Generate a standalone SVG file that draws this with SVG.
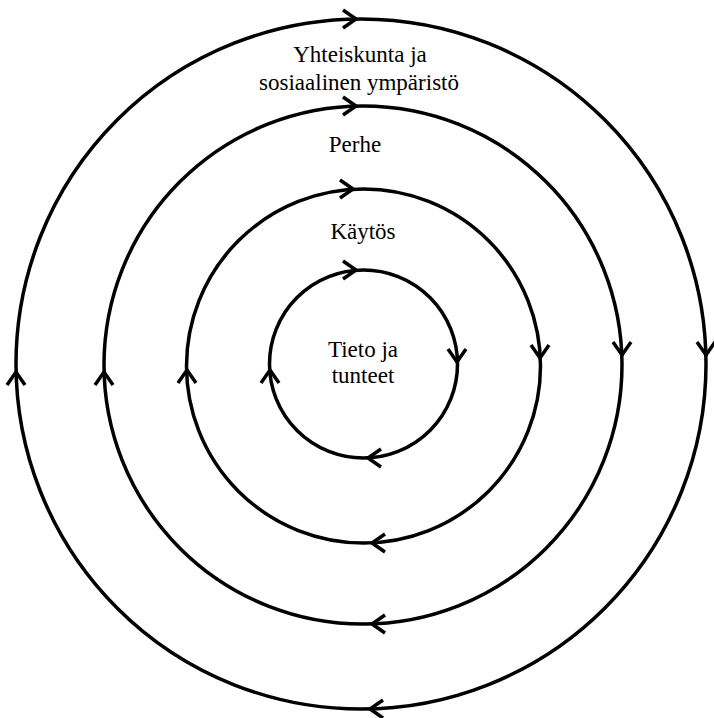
<svg xmlns="http://www.w3.org/2000/svg" xmlns:xlink="http://www.w3.org/1999/xlink" width="714" height="718" viewBox="0 0 714 718">
<style>
.ring{fill:none;stroke:#000;stroke-width:3.5}
.chev{fill:none;stroke:#000;stroke-width:3.5;stroke-linecap:butt;stroke-linejoin:miter}
.lbl{font-family:"Liberation Serif","Times New Roman",serif;font-size:23px;fill:#000;text-anchor:middle}
</style>
<defs>
<path id="chev" class="chev" d="M-13,-9 L0,0 L-13,9"/>
</defs>
<rect width="714" height="718" fill="#fff"/>
<g id="connectors">
<g id="ring-outer">
<circle class="ring" cx="361" cy="364" r="345"/>
<use xlink:href="#chev" transform="translate(356,19)"/>
<use xlink:href="#chev" transform="translate(706,355) rotate(90)"/>
<use xlink:href="#chev" transform="translate(370,709) rotate(180)"/>
<use xlink:href="#chev" transform="translate(16,372) rotate(-90)"/>
</g>
<g id="ring-perhe">
<circle class="ring" cx="363" cy="365" r="259"/>
<use xlink:href="#chev" transform="translate(356,106)"/>
<use xlink:href="#chev" transform="translate(622,355) rotate(90)"/>
<use xlink:href="#chev" transform="translate(372,624) rotate(180)"/>
<use xlink:href="#chev" transform="translate(104,372) rotate(-90)"/>
</g>
<g id="ring-kaytos">
<circle class="ring" cx="363.5" cy="366" r="177"/>
<use xlink:href="#chev" transform="translate(353,189)"/>
<use xlink:href="#chev" transform="translate(540,358) rotate(90)"/>
<use xlink:href="#chev" transform="translate(372,543) rotate(180)"/>
<use xlink:href="#chev" transform="translate(187,370) rotate(-90)"/>
</g>
<g id="ring-inner">
<circle class="ring" cx="363.5" cy="364" r="94"/>
<use xlink:href="#chev" transform="translate(356,270)"/>
<use xlink:href="#chev" transform="translate(457,362) rotate(90)"/>
<use xlink:href="#chev" transform="translate(368,458) rotate(180)"/>
<use xlink:href="#chev" transform="translate(270,370) rotate(-90)"/>
</g>
</g>
<g id="node-yhteiskunta">
<text class="lbl" x="360" y="62">Yhteiskunta ja</text>
<text class="lbl" x="359" y="90">sosiaalinen ympäristö</text>
</g>
<g id="node-perhe">
<text class="lbl" x="355" y="152">Perhe</text>
</g>
<g id="node-kaytos">
<text class="lbl" x="363" y="239">Käytös</text>
</g>
<g id="node-tieto">
<text class="lbl" x="363" y="357">Tieto ja</text>
<text class="lbl" x="363" y="383">tunteet</text>
</g>
</svg>
